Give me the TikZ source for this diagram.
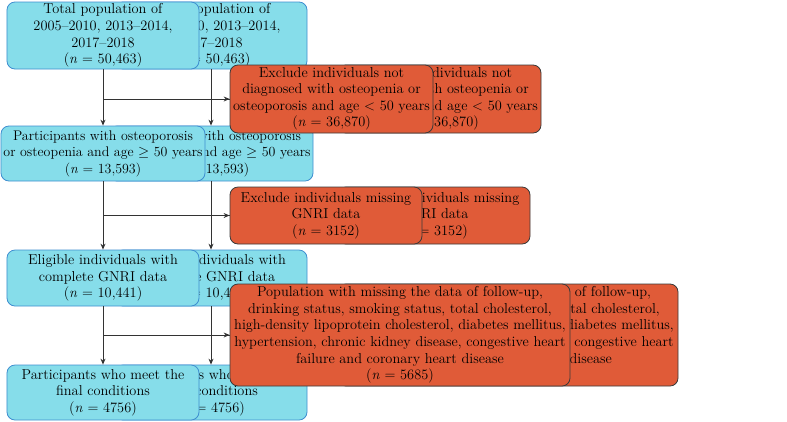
\documentclass[tikz,border=0pt]{standalone}
\usetikzlibrary{arrows.meta}
\definecolor{bluefill}{HTML}{86DDEA}
\definecolor{blueline}{HTML}{3E8ED0}
\definecolor{redfill}{HTML}{E05B38}
\definecolor{redline}{HTML}{3A3A3A}
\definecolor{arrowc}{HTML}{333333}
\tikzset{
  bluebox/.style={draw=blueline, fill=bluefill, rounded corners=8bp, line width=0.8bp, align=center, inner sep=0bp, font=\fontsize{14.4}{16.6}\selectfont},
  redbox/.style={draw=redline, fill=redfill, rounded corners=8bp, line width=0.8bp, align=center, inner sep=0bp, font=\fontsize{14.4}{16.6}\selectfont},
  flow/.style={draw=arrowc, line width=0.9bp, -{Stealth[length=6bp,width=5bp]}}
}
\newcommand{\flowlayer}[1]{%
  \node[bluebox, minimum width=192bp, minimum height=67bp] (#1b1) at (103,35.5) {Total population of\\2005--2010, 2013--2014,\\2017--2018\\(\textit{n} = 50,463)};
  \node[bluebox, minimum width=204bp, minimum height=55bp, font=\fontsize{14}{16.6}\selectfont] (#1b2) at (103,153.5) {Participants with osteoporosis\\or osteopenia and age $\geq$ 50 years\\(\textit{n} = 13,593)};
  \node[bluebox, minimum width=192bp, minimum height=56bp] (#1b3) at (103,278) {Eligible individuals with\\complete GNRI data\\(\textit{n} = 10,441)};
  \node[bluebox, minimum width=192bp, minimum height=55bp] (#1b4) at (103,392.5) {Participants who meet the\\final conditions\\(\textit{n} = 4756)};
  \node[redbox, minimum width=203bp, minimum height=68bp] (#1r1) at (331.5,99) {Exclude individuals not\\diagnosed with osteopenia or\\osteoporosis and age $<$ 50 years\\(\textit{n} = 36,870)};
  \node[redbox, minimum width=192bp, minimum height=57bp] (#1r2) at (326,215.5) {Exclude individuals missing\\GNRI data\\(\textit{n} = 3152)};
  \node[redbox, minimum width=340bp, minimum height=102bp] (#1r3) at (400,335) {Population with missing the data of follow-up,\\drinking status, smoking status, total cholesterol,\\high-density lipoprotein cholesterol, diabetes mellitus,\\hypertension, chronic kidney disease, congestive heart\\failure and coronary heart disease\\(\textit{n} = 5685)};
  \draw[flow] (#1b1.south) -- (#1b2.north);
  \draw[flow] (#1b2.south) -- (#1b3.north);
  \draw[flow] (#1b3.south) -- (#1b4.north);
  \draw[flow] (#1b1.south |- #1r1.west) -- (#1r1.west);
  \draw[flow] (#1b2.south |- #1r2.west) -- (#1r2.west);
  \draw[flow] (#1b3.south |- #1r3.west) -- (#1r3.west);
}
\begin{document}
\begin{tikzpicture}[x=1bp, y=-1bp]
\useasboundingbox (0,0) rectangle (787,421);
\begin{scope}[xshift=108bp]
\flowlayer{back}
\end{scope}
\flowlayer{front}
\end{tikzpicture}
\end{document}
